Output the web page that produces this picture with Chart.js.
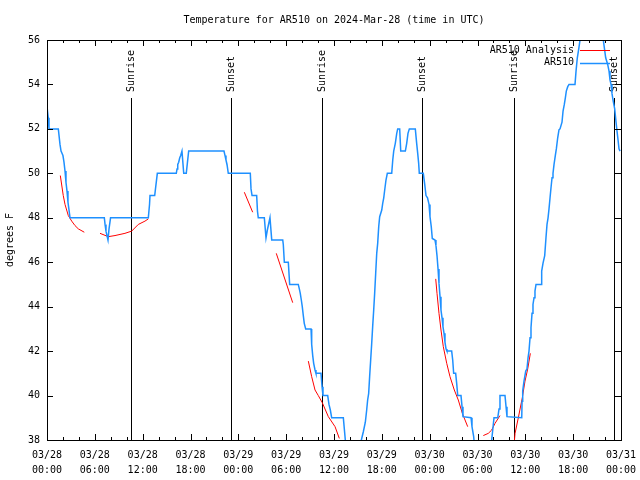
<!DOCTYPE html>
<html lang="en">
<head>
    <meta charset="UTF-8">
    <title>AR510 Temperature</title>
    <script src="https://cdn.jsdelivr.net/npm/chart.js"></script>
    <style>
        body { margin: 0; background: #fff; }
        #wrap { width: 640px; height: 480px; }
    </style>
</head>
<body>
<div id="wrap">
    <canvas id="tempChart" width="640" height="480"></canvas>
</div>
<script>
// hours since 2024-03-28 00:00 UTC
const ar510Hours = [0, 0.16, 0.25, 1.42, 1.63, 1.76, 2.0, 2.13, 2.26, 2.38, 2.51, 2.63, 2.89, 7.19, 7.28, 7.4, 7.65, 7.78, 7.97,
    12.71, 12.86, 12.92, 13.51, 13.64, 13.84, 16.22, 16.31, 16.4, 16.52, 16.65, 16.77, 16.93, 17.15, 17.47, 17.77,
    22.2, 22.33, 22.45, 22.58, 22.74, 25.5, 25.59, 25.72, 26.3, 26.4, 26.5, 27.26, 27.47, 27.64, 27.97, 28.19,
    29.57, 29.64, 29.77, 30.27, 30.44, 31.52, 31.65, 31.77, 31.9, 32.02, 32.15, 32.27, 32.45, 33.12, 33.2, 33.33,
    33.45, 33.62, 33.74, 34.37, 34.5, 34.62, 35.21, 35.37, 35.54, 35.71, 37.17, 37.47, 37.6, 39.25, 39.43, 39.68,
    39.93, 40.1, 40.22, 40.35, 40.47, 40.6, 40.73, 40.85, 40.98, 41.1, 41.23, 41.36, 41.48, 41.61, 41.73, 41.99,
    42.11, 42.24, 42.36, 42.52, 42.69, 43.24, 43.37, 43.49, 43.69, 43.87, 43.99, 44.24, 44.37, 44.95, 45.12, 45.28,
    45.45, 46.2, 46.37, 46.5, 46.62, 46.7, 47.2, 47.38, 47.54, 47.73, 47.92, 48.04, 48.2, 48.33, 48.67, 48.79,
    48.92, 49.05, 49.17, 49.3, 49.42, 49.55, 49.67, 49.8, 49.92, 50.05, 50.17, 50.76, 50.89, 51.01, 51.26, 51.39,
    51.52, 51.93, 52.06, 52.18, 53.19, 53.31, 53.52, 53.69, 55.63, 55.78, 55.91, 56.07, 56.54, 56.7, 56.82, 57.45,
    57.58, 57.7, 59.55, 59.59, 59.67, 59.83, 60.05, 60.21, 60.34, 60.46, 60.59, 60.71, 60.84, 60.96, 61.09, 61.21,
    61.34, 61.97, 62.05, 62.22, 62.43, 62.59, 62.72, 62.85, 62.97, 63.1, 63.22, 63.35, 63.47, 63.6, 63.76, 63.89,
    64.06, 64.22, 64.35, 64.6, 64.73, 64.89, 65.02, 65.14, 65.32, 65.48, 66.23, 66.36, 66.52, 66.7, 66.86, 67.05,
    69.62, 69.78, 70.08, 70.33, 70.5, 70.62, 70.75, 70.87, 71.0, 71.21, 71.38, 71.5, 71.63, 71.75, 71.88];
const ar510Temps = [53.0, 52.5, 52.0, 52.0, 51.3, 51.0, 50.8, 50.5, 50.1, 49.6, 49.2, 48.7, 48.0, 48.0, 47.7, 47.4, 47.0, 47.5, 48.0,
    48.0, 48.6, 49.0, 49.0, 49.4, 50.0, 50.0, 50.2, 50.4, 50.5, 50.7, 50.8, 51.0, 50.0, 50.0, 51.0,
    51.0, 50.8, 50.6, 50.4, 50.0, 50.0, 49.3, 49.0, 49.0, 48.3, 48.0, 48.0, 47.1, 47.45, 48.0, 47.0,
    47.0, 46.8, 46.0, 46.0, 45.0, 45.0, 44.8, 44.6, 44.3, 44.0, 43.6, 43.25, 43.0, 43.0, 42.3, 41.8,
    41.45, 41.15, 41.0, 41.0, 40.4, 40.0, 40.0, 39.6, 39.35, 39.0, 39.0, 37.8, 37.5, 37.5, 38.0, 38.37,
    38.8, 39.35, 39.8, 40.1, 40.85, 41.6, 42.35, 43.1, 43.85, 44.6, 45.5, 46.4, 46.85, 47.6, 48.05, 48.35,
    48.65, 48.9, 49.25, 49.7, 50.0, 50.0, 50.6, 51.0, 51.35, 51.8, 52.0, 52.0, 51.0, 51.0, 51.35, 51.8,
    52.0, 52.0, 51.35, 50.9, 50.45, 50.0, 50.0, 49.5, 49.0, 48.9, 48.6, 48.05, 47.6, 47.07, 47.0, 46.75,
    46.3, 45.7, 45.05, 44.45, 43.85, 43.5, 43.1, 42.8, 42.4, 42.1, 42.0, 42.0, 41.6, 41.0, 41.0, 40.55,
    40.0, 40.0, 39.5, 39.05, 39.0, 38.6, 38.15, 37.5, 37.5, 38.0, 38.45, 39.0, 39.0, 39.4, 40.0, 40.0,
    39.5, 39.05, 39.0, 39.74, 40.2, 40.64, 41.1, 41.2, 41.7, 42.0, 42.6, 43.05, 43.7, 44.1, 44.4, 44.7,
    45.0, 45.0, 45.6, 45.96, 46.3, 47.1, 47.7, 48.0, 48.4, 48.9, 49.35, 49.8, 50.0, 50.4, 50.8, 51.1,
    51.6, 51.96, 52.0, 52.3, 52.8, 53.1, 53.4, 53.7, 53.9, 54.0, 54.0, 54.6, 55.2, 55.6, 56.0, 56.6,
    56.6, 56.0, 55.2, 54.9, 54.6, 54.2, 54.0, 53.6, 53.3, 52.9, 52.3, 51.9, 51.5, 51.1, 51.0];

// analysis runs, null breaks between them
const analysisHours = [1.67, 2.04, 2.26, 2.67, 3.1, 3.51, 3.93, 4.68, 5.5,
    6.65, 7.69, 8.53, 9.78, 10.62, 11.45, 12.29, 12.71, 18,
    24.75, 25.8, 27,
    28.76, 30.82, 31.5,
    32.78, 33.2, 33.62, 34.03, 34.53, 35.29, 36.13, 36.67, 42,
    48.76, 48.92, 49.17, 49.42, 49.71, 50.14, 50.55, 51.09, 51.59, 52.1, 52.77, 53.5,
    54.73, 55.36, 55.78, 56.2, 56.82, 58,
    58.64, 58.71, 59.12, 59.62, 59.96, 60.3, 60.63];
const analysisTemps = [49.9, 49.0, 48.6, 48.1, 47.85, 47.65, 47.5, 47.35, null,
    47.3, 47.15, 47.2, 47.3, 47.4, 47.7, 47.85, 47.95, null,
    49.15, 48.25, null,
    46.4, 44.18, null,
    41.55, 40.85, 40.25, 40.0, 39.68, 39.05, 38.6, 38.07, null,
    45.25, 44.6, 43.7, 42.95, 42.2, 41.45, 40.85, 40.25, 39.8, 39.2, 38.6, null,
    38.2, 38.3, 38.45, 38.75, 39.1, null,
    38.0, 38.3, 39.0, 39.9, 40.65, 41.2, 41.9];

const sunEvents = ['Sunrise', 'Sunset', 'Sunrise', 'Sunset', 'Sunrise', 'Sunset'];
const sunHours = [10.53, 23.07, 34.5, 47.03, 58.6, 71.08];

const monoFont = { family: 'DejaVu Sans Mono', size: 10 };

// gnuplot-like frame: border, inward ticks, sun lines, legend
const gnuplotFrame = {
    id: 'gnuplotFrame',
    beforeDatasetsDraw(chart) {
        const ctx = chart.ctx;
        const a = chart.chartArea;
        const xs = chart.scales.x;
        ctx.save();
        ctx.strokeStyle = '#000';
        ctx.fillStyle = '#000';
        ctx.lineWidth = 1;
        ctx.font = '10px "DejaVu Sans Mono"';
        sunEvents.forEach(function(name, i) {
            const px = Math.round(xs.getPixelForValue(sunHours[i])) + 0.5;
            ctx.beginPath();
            ctx.moveTo(px, a.bottom);
            ctx.lineTo(px, a.top + 58);
            ctx.stroke();
            ctx.save();
            ctx.translate(px, a.top + 52);
            ctx.rotate(-Math.PI / 2);
            ctx.textAlign = 'left';
            ctx.textBaseline = 'middle';
            ctx.fillText(name, 0, 0);
            ctx.restore();
        });
        ctx.restore();
    },
    afterDatasetsDraw(chart) {
        const ctx = chart.ctx;
        const a = chart.chartArea;
        const xs = chart.scales.x;
        const ys = chart.scales.y;
        ctx.save();
        ctx.strokeStyle = '#000';
        ctx.lineWidth = 1;
        ctx.strokeRect(a.left + 0.5, a.top + 0.5, a.right - a.left, a.bottom - a.top);
        ctx.beginPath();
        xs.ticks.forEach(function(t) {
            const px = Math.round(xs.getPixelForValue(t.value)) + 0.5;
            const len = t.value % 6 === 0 ? 6 : 3;
            ctx.moveTo(px, a.bottom); ctx.lineTo(px, a.bottom - len);
            ctx.moveTo(px, a.top); ctx.lineTo(px, a.top + len);
        });
        ys.ticks.forEach(function(t) {
            const py = Math.round(ys.getPixelForValue(t.value)) + 0.5;
            ctx.moveTo(a.left, py); ctx.lineTo(a.left + 6, py);
            ctx.moveTo(a.right, py); ctx.lineTo(a.right - 6, py);
        });
        ctx.stroke();

        // legend, text left of the sample line
        ctx.font = '10px "DejaVu Sans Mono"';
        ctx.textAlign = 'right';
        ctx.textBaseline = 'middle';
        ctx.fillStyle = '#000';
        const order = [1, 0];
        order.forEach(function(di, row) {
            const ds = chart.data.datasets[di];
            const ly = a.top + 10 + row * 12.5;
            ctx.fillText(ds.label, a.right - 47, ly);
            ctx.strokeStyle = ds.borderColor;
            ctx.lineWidth = ds.borderWidth;
            ctx.beginPath();
            ctx.moveTo(a.right - 41, Math.round(ly) + 0.5);
            ctx.lineTo(a.right - 11, Math.round(ly) + 0.5);
            ctx.stroke();
        });
        ctx.restore();
    }
};

function toPoints(hours, temps) {
    return hours.map(function(h, i) { return { x: h, y: temps[i] }; });
}

function tickLabel(value) {
    if (value % 6 !== 0) return '';
    const day = 28 + Math.floor(value / 24);
    const hr = value % 24;
    return ['03/' + day, (hr < 10 ? '0' + hr : '' + hr) + ':00'];
}

const ctx = document.getElementById('tempChart').getContext('2d');
new Chart(ctx, {
    type: 'line',
    data: {
        datasets: [{
            label: 'AR510',
            data: toPoints(ar510Hours, ar510Temps),
            borderColor: '#1E90FF',
            borderWidth: 1.5,
            pointRadius: 0,
            tension: 0,
            order: 1
        }, {
            label: 'AR510 Analysis',
            data: toPoints(analysisHours, analysisTemps),
            borderColor: '#FF0000',
            borderWidth: 1,
            pointRadius: 0,
            tension: 0,
            spanGaps: false,
            order: 2
        }]
    },
    options: {
        responsive: false,
        animation: false,
        events: [],
        layout: { padding: { top: 0, right: 19, bottom: 0, left: 0 } },
        scales: {
            x: {
                type: 'linear',
                min: 0,
                max: 72,
                grid: { display: false, drawTicks: false },
                border: { display: false },
                afterFit: function(scale) {
                    scale.height = 40;
                    scale.paddingLeft = 0;
                    scale.paddingRight = 0;
                },
                ticks: {
                    stepSize: 2,
                    autoSkip: false,
                    maxRotation: 0,
                    minRotation: 0,
                    padding: 8,
                    color: '#000',
                    font: { family: 'DejaVu Sans Mono', size: 10, lineHeight: 1.5 },
                    callback: tickLabel
                }
            },
            y: {
                min: 38,
                max: 56,
                grid: { display: false, drawTicks: false },
                border: { display: false },
                afterFit: function(scale) { scale.width = 47; },
                title: {
                    display: true,
                    text: 'degrees F',
                    color: '#000',
                    font: monoFont,
                    padding: 4
                },
                ticks: {
                    stepSize: 2,
                    padding: 7,
                    color: '#000',
                    font: monoFont
                }
            }
        },
        plugins: {
            legend: { display: false },
            tooltip: { enabled: false },
            title: {
                display: true,
                text: 'Temperature for AR510 on 2024-Mar-28 (time in UTC)',
                color: '#000',
                fullSize: false,
                font: { family: 'DejaVu Sans Mono', size: 10, weight: 'normal', lineHeight: 1.2 },
                padding: { top: 14, bottom: 14 }
            }
        }
    },
    plugins: [gnuplotFrame]
});
</script>
</body>
</html>
